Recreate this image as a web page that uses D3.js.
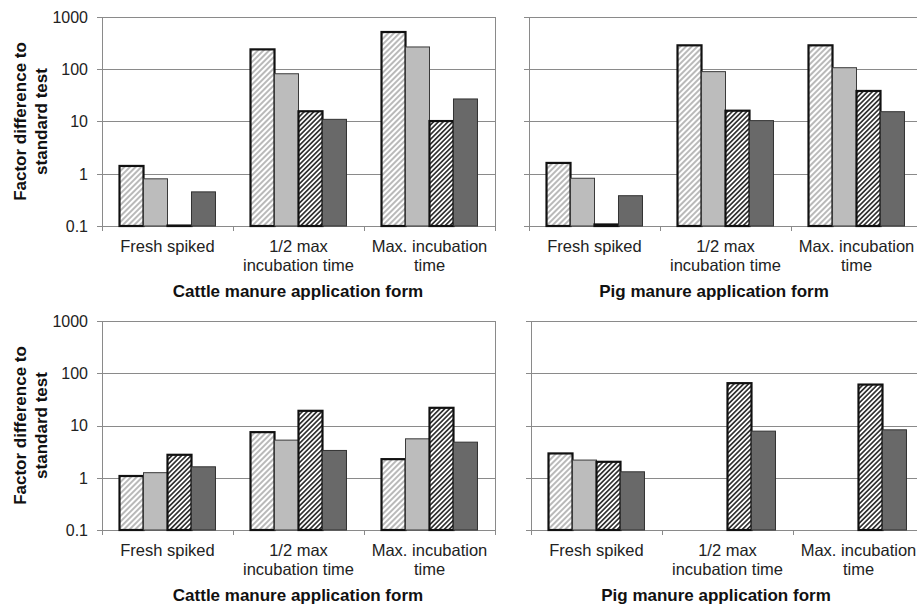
<!DOCTYPE html>
<meta charset="utf-8">
<style>
body { margin: 0; background: #fff; }
svg { display: block; font-family: "Liberation Sans", Arial, sans-serif; }
.grid line { stroke: #8a8a8a; stroke-width: 1px; }
.tick-mark { stroke: #8a8a8a; stroke-width: 1px; }
.ylab { font-size: 16px; fill: #222; }
.xlab { font-size: 16.5px; fill: #222; }
.xtitle, .ytitle { font-size: 17px; font-weight: bold; fill: #111; }
</style>
<svg width="917" height="608"></svg>
<script src="https://d3js.org/d3.v7.min.js"></script>
<script>

// categories on the x axis (label lines)
var categories = ["Fresh spiked", "1/2 max incubation time", "Max. incubation time"];
var categoryLines = [["Fresh spiked"], ["1/2 max", "incubation time"], ["Max. incubation", "time"]];
var yTicks = [0.1, 1, 10, 100, 1000];

// four series per panel, one value per category (null = no bar)
var cattleTop = [
  [1.41, 240, 516],
  [0.80, 82, 267],
  [0.102, 15.7, 10.2],
  [0.45, 11, 27]
];
var pigTop = [
  [1.61, 287, 287],
  [0.82, 90, 107],
  [0.107, 16.1, 38.4],
  [0.38, 10.4, 15.4]
];
var cattleBottom = [
  [1.08, 7.46, 2.27],
  [1.25, 5.25, 5.56],
  [2.75, 19.1, 21.8],
  [1.62, 3.33, 4.8]
];
var pigBottom = [
  [2.92, null, null],
  [2.18, null, null],
  [2.02, 64.6, 60.7],
  [1.30, 7.8, 8.27]
];

var svg = d3.select("svg");

// hatch patterns
var defs = svg.append("defs");
function hatch(id, spacing, color, w) {
  var p = defs.append("pattern")
      .attr("id", id)
      .attr("patternUnits", "userSpaceOnUse")
      .attr("width", spacing)
      .attr("height", spacing)
      .attr("patternTransform", "rotate(45)");
  p.append("rect").attr("width", spacing).attr("height", spacing).attr("fill", "#fff");
  p.append("line")
      .attr("x1", spacing / 2).attr("y1", 0)
      .attr("x2", spacing / 2).attr("y2", spacing)
      .attr("stroke", color).attr("stroke-width", w);
}
hatch("lightHatch", 4, "#a8a8a8", 1.6);
hatch("darkHatch", 3.4, "#262626", 1.6);

var seriesStyle = [
  { fill: "url(#lightHatch)", stroke: "#111", sw: 2.2 },
  { fill: "#bcbcbc", stroke: "#3a3a3a", sw: 1 },
  { fill: "url(#darkHatch)", stroke: "#111", sw: 2.2 },
  { fill: "#696969", stroke: "#333", sw: 1 }
];

var panels = [
  { data: cattleTop, x0: 102, y0: 17, yLabels: true, title: "Cattle manure application form", tx: 298 },
  { data: pigTop, x0: 529, y0: 17, yLabels: false, title: "Pig manure application form", tx: 714 },
  { data: cattleBottom, x0: 102, y0: 321, yLabels: true, title: "Cattle manure application form", tx: 298 },
  { data: pigBottom, x0: 531, y0: 321, yLabels: false, title: "Pig manure application form", tx: 716 }
];

var plotW = 393, plotH = 209;

panels.forEach(function(p) {
  var g = svg.append("g");

  var x = d3.scaleBand()
      .domain(categories)
      .range([p.x0, p.x0 + plotW]);

  var xs = d3.scaleBand()
      .domain([0, 1, 2, 3])
      .range([0, x.bandwidth()])
      .paddingOuter(0.73);

  var y = d3.scaleLog()
      .domain([0.1, 1000])
      .range([p.y0 + plotH, p.y0]);

  // gridlines
  g.append("g").attr("class", "grid")
    .selectAll("line")
    .data(yTicks)
    .enter().append("line")
      .attr("x1", p.x0 - 5)
      .attr("x2", p.x0 + plotW)
      .attr("y1", function(d) { return Math.round(y(d)) + 0.5; })
      .attr("y2", function(d) { return Math.round(y(d)) + 0.5; });

  // plot frame (left and right sides)
  [p.x0, p.x0 + plotW].forEach(function(xx) {
    g.append("line").attr("class", "tick-mark")
      .attr("x1", xx + 0.5).attr("x2", xx + 0.5)
      .attr("y1", y(1000)).attr("y2", y(0.1) + 5);
  });

  // category boundary ticks
  g.selectAll(".xb")
    .data(categories.slice(1))
    .enter().append("line")
      .attr("class", "tick-mark")
      .attr("x1", function(d) { return Math.round(x(d)) + 0.5; })
      .attr("x2", function(d) { return Math.round(x(d)) + 0.5; })
      .attr("y1", y(0.1))
      .attr("y2", y(0.1) + 5);

  // y tick labels
  if (p.yLabels) {
    g.selectAll(".ylab")
      .data(yTicks)
      .enter().append("text")
        .attr("class", "ylab")
        .attr("x", p.x0 - 14)
        .attr("y", function(d) { return y(d); })
        .attr("dy", "0.36em")
        .attr("text-anchor", "end")
        .text(function(d) { return d3.format("")(d); });

    var yt = g.append("text")
        .attr("class", "ytitle")
        .attr("text-anchor", "middle")
        .attr("transform", "translate(26," + (p.y0 + plotH / 2) + ") rotate(-90)");
    yt.append("tspan").attr("x", 0).attr("dy", 0).text("Factor difference to");
    yt.append("tspan").attr("x", 0).attr("dy", 21).text("standard test");
  }

  // bars
  p.data.forEach(function(vals, si) {
    var st = seriesStyle[si];
    g.append("g").selectAll("rect")
      .data(vals.map(function(v, ci) { return { v: v, c: categories[ci] }; })
                .filter(function(d) { return d.v != null; }))
      .enter().append("rect")
        .attr("x", function(d) { return x(d.c) + xs(si); })
        .attr("width", xs.bandwidth())
        .attr("y", function(d) { return y(d.v); })
        .attr("height", function(d) { return y(0.1) - y(d.v); })
        .attr("fill", st.fill)
        .attr("stroke", st.stroke)
        .attr("stroke-width", st.sw);
  });

  // category labels
  var lab = g.selectAll(".xlab")
    .data(categories)
    .enter().append("text")
      .attr("class", "xlab")
      .attr("text-anchor", "middle")
      .attr("x", function(d) { return x(d) + x.bandwidth() / 2; })
      .attr("y", y(0.1) + 26);
  lab.each(function(d, i) {
    var t = d3.select(this);
    categoryLines[i].forEach(function(line, li) {
      t.append("tspan")
        .attr("x", x(d) + x.bandwidth() / 2)
        .attr("dy", li === 0 ? 0 : 19)
        .text(line);
    });
  });

  // axis title
  g.append("text")
    .attr("class", "xtitle")
    .attr("text-anchor", "middle")
    .attr("x", p.tx)
    .attr("y", y(0.1) + 71)
    .text(p.title);
});

</script>
